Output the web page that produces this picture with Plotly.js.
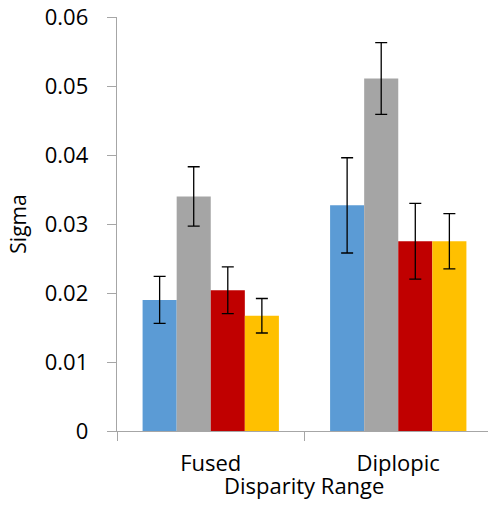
<!DOCTYPE html>
<html>
<head>
<meta charset="utf-8">
<script src="https://cdn.plot.ly/plotly-3.0.1.min.js"></script>
<style>
html,body{margin:0;padding:0;overflow:hidden;background:#fff;}
#chart{width:492px;height:508px;}
</style>
</head>
<body>
<div id="chart"></div>
<script>
var categories = ["Fused", "Diplopic"];
var seriesNames = ["S1", "S2", "S3", "S4"];
var seriesColors = ["#5B9BD5", "#A5A5A5", "#C00000", "#FFC000"];
var s1 = [0.0190, 0.0327];
var s2 = [0.0340, 0.0511];
var s3 = [0.0204, 0.0275];
var s4 = [0.0167, 0.0275];
var e1 = [0.0034, 0.0069];
var e2 = [0.0043, 0.0052];
var e3 = [0.0034, 0.0055];
var e4 = [0.0025, 0.0040];
var yTicks = [0, 0.01, 0.02, 0.03, 0.04, 0.05, 0.06];
var yTickText = ["0", "0.01", "0.02", "0.03", "0.04", "0.05", "0.06"];
var xTitle = "Disparity Range";
var yTitle = "Sigma";

var values = [s1, s2, s3, s4];
var errs = [e1, e2, e3, e4];
var FONT = "'Open Sans', sans-serif";
var FS = 22;

var traces = values.map(function (v, i) {
  return {
    type: "bar",
    name: seriesNames[i],
    x: categories,
    y: v,
    marker: {color: seriesColors[i], line: {width: 0}},
    error_y: {type: "data", array: errs[i], visible: true, color: "#000", thickness: 1.3, width: 6}
  };
});

var layout = {
  width: 492, height: 508,
  margin: {l: 117, r: 0, t: 17, b: 77},
  paper_bgcolor: "#fff", plot_bgcolor: "#fff",
  showlegend: false,
  barmode: "group",
  bargap: 0.273,
  bargroupgap: 0,
  font: {family: FONT, size: FS, color: "#000"},
  xaxis: {
    type: "category",
    showline: true, linecolor: "#a6a6a6", linewidth: 1.3,
    ticks: "outside", tickson: "boundaries", ticklen: 9, tickcolor: "#a6a6a6",
    ticklabelstandoff: 12,
    showgrid: false, zeroline: false,
    tickfont: {family: FONT, size: FS, color: "#000"}
  },
  yaxis: {
    range: [0, 0.06],
    tickvals: yTicks, ticktext: yTickText,
    showline: true, linecolor: "#a6a6a6", linewidth: 1.3,
    ticks: "outside", ticklen: 9, tickcolor: "#a6a6a6",
    ticklabelstandoff: 14,
    showgrid: false, zeroline: false,
    tickfont: {family: FONT, size: FS, color: "#000"},
    title: {text: yTitle, font: {family: FONT, size: 21, color: "#000"}, standoff: 12}
  },
  annotations: [{
    text: xTitle, xref: "paper", yref: "paper", x: 0.4987, y: -0.1304,
    xanchor: "center", yanchor: "middle", showarrow: false,
    font: {family: FONT, size: FS, color: "#000"}
  }]
};

Plotly.newPlot("chart", traces, layout, {displayModeBar: false, staticPlot: true});
</script>
</body>
</html>
